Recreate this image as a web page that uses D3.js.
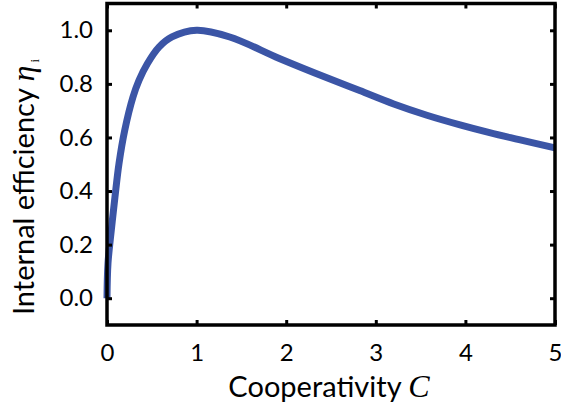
<!DOCTYPE html>
<html>
<head>
<meta charset="utf-8">
<script src="https://cdn.jsdelivr.net/npm/d3@7"></script>
<style>
    body { margin: 0; background: #fff; }
    text { font-family: Lato, "Open Sans", sans-serif; fill: #000; }
    .math { font-family: "Liberation Serif", serif; font-style: italic; }
</style>
</head>
<body>
<div id="chart"></div>
<script>

// values
var cooperativity = [0, 0.011, 0.048, 0.089, 0.134, 0.198, 0.29, 0.357, 0.45, 0.58, 0.725, 1.0, 1.37, 1.93, 2.49, 2.82, 3.2, 3.57, 3.94, 4.27, 4.6, 5.0];
var efficiency    = [0, 0.13, 0.254, 0.378, 0.503, 0.627, 0.751, 0.813, 0.875, 0.937, 0.975, 1.0, 0.975, 0.894, 0.818, 0.775, 0.725, 0.683, 0.647, 0.618, 0.592, 0.561];

var xTickValues = [0, 1, 2, 3, 4, 5];
var yTickValues = [0, 0.2, 0.4, 0.6, 0.8, 1.0];

createChart();

function createChart() {

    var width = 561;
    var height = 409;

    var left = 107;
    var right = 555;
    var top = 3.5;
    var bottom = 325;

    var svg = d3.select('#chart')
        .append('svg')
            .attr('width', width)
            .attr('height', height);

    var x = d3.scaleLinear()
        .domain([0, 5])
        .range([left, right]);

    var y = d3.scaleLinear()
        .domain([-0.1, 1.1])
        .range([bottom, top]);

    var points = [];
    for (let i = 0; i < cooperativity.length; i++) {
        points.push({ c: cooperativity[i], eta: efficiency[i] });
    }

    // the curve
    svg.append('path')
        .datum(points)
            .attr('fill', 'none')
            .attr('stroke', '#3B55A6')
            .attr('stroke-width', 7)
            .attr('d', d3.line()
                .curve(d3.curveCatmullRom.alpha(0.5))
                .x(function(d) { return x(d.c); })
                .y(function(d) { return y(d.eta); })
            );

    /** axes, ticks pointing inward on all four sides */
    var tickLen = 5;

    svg.append('g')
        .attr('transform', 'translate(0,' + bottom + ')')
        .call(d3.axisBottom(x).tickValues(xTickValues).tickSizeInner(-tickLen).tickSizeOuter(0).tickPadding(19).tickFormat(d3.format('d')));

    svg.append('g')
        .attr('transform', 'translate(0,' + top + ')')
        .call(d3.axisTop(x).tickValues(xTickValues).tickSizeInner(-tickLen).tickSizeOuter(0).tickFormat(''));

    svg.append('g')
        .attr('transform', 'translate(' + left + ',0)')
        .call(d3.axisLeft(y).tickValues(yTickValues).tickSizeInner(-tickLen).tickSizeOuter(0).tickPadding(14).tickFormat(d3.format('.1f')));

    svg.append('g')
        .attr('transform', 'translate(' + right + ',0)')
        .call(d3.axisRight(y).tickValues(yTickValues).tickSizeInner(-tickLen).tickSizeOuter(0).tickFormat(''));

    svg.selectAll('.domain').remove();
    svg.selectAll('.tick line')
        .attr('stroke', '#000')
        .attr('stroke-width', 3);
    svg.selectAll('.tick text')
        .attr('font-family', null)
        .attr('font-size', null)
        .style('font-size', '24px');

    // frame
    svg.append('rect')
        .attr('x', left)
        .attr('y', top)
        .attr('width', right - left)
        .attr('height', bottom - top)
        .attr('fill', 'none')
        .attr('stroke', '#000')
        .attr('stroke-width', 3.5);

    // axis titles
    var xTitle = svg.append('text')
        .attr('x', 329)
        .attr('y', 397)
        .attr('text-anchor', 'middle')
        .style('font-size', '29px');
    xTitle.append('tspan').text('Cooperativity ');
    xTitle.append('tspan').attr('class', 'math').style('font-size', '32px').text('C');

    var yTitle = svg.append('text')
        .attr('transform', 'translate(34,187) rotate(-90)')
        .attr('text-anchor', 'middle')
        .style('font-size', '29px');
    yTitle.append('tspan').text('Internal efficiency ');
    yTitle.append('tspan').attr('class', 'math').style('font-size', '32px').text('η');
    yTitle.append('tspan').attr('class', 'math').style('font-size', '13px').style('font-style', 'normal').attr('dx', 3).attr('dy', 5).text('i');
}

</script>
</body>
</html>
